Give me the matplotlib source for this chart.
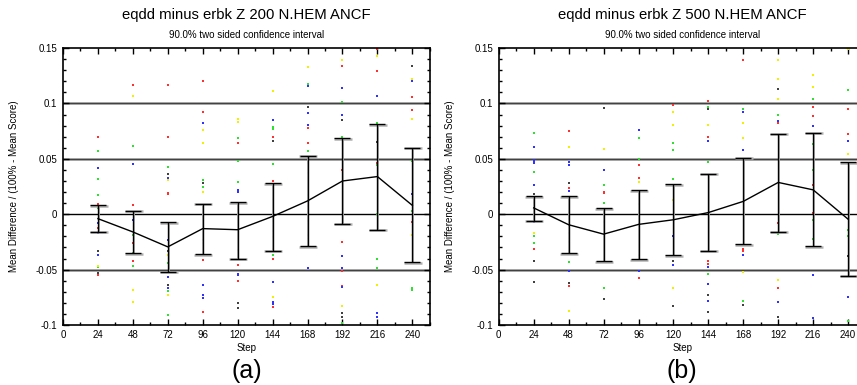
import numpy as np
import matplotlib.pyplot as plt
from matplotlib.ticker import MultipleLocator

plt.rcParams['font.family'] = ['Liberation Sans', 'DejaVu Sans']

steps = [24, 48, 72, 96, 120, 144, 168, 192, 216, 240]

# panel (a): Z 200
mean_a = [-0.004, -0.016, -0.0295, -0.013, -0.014, -0.002, 0.012, 0.030, 0.034, 0.008]
upper_a = [0.008, 0.003, -0.007, 0.0095, 0.011, 0.028, 0.053, 0.0686, 0.0814, 0.060]
lower_a = [-0.016, -0.035, -0.052, -0.036, -0.040, -0.033, -0.029, -0.0085, -0.014, -0.0435]

# panel (b): Z 500
mean_b = [0.0057, -0.0095, -0.018, -0.0092, -0.005, 0.0015, 0.0116, 0.0287, 0.022, -0.0045]
upper_b = [0.0164, 0.016, 0.0054, 0.0219, 0.0272, 0.0365, 0.0512, 0.0728, 0.0737, 0.047]
lower_b = [-0.0057, -0.035, -0.0426, -0.0408, -0.037, -0.033, -0.027, -0.0158, -0.029, -0.0557]

# individual scores per step, by colour
dots_a = {
    24: {'r': [0.070, 0.0095, -0.012, -0.055], 'g': [0.057, 0.032, 0.017, 0.006, -0.048],
         'b': [0.042, -0.008, -0.017, -0.037], 'y': [-0.047], 'k': [-0.033, -0.053]},
    48: {'r': [0.117, 0.062, 0.008, -0.026, -0.042], 'y': [0.107, -0.068, -0.079],
         'g': [0.062, -0.019, -0.035, -0.047], 'b': [0.045, -0.005]},
    72: {'r': [0.117, 0.070, 0.019, 0.018], 'g': [0.043, -0.044, -0.069, -0.091],
         'k': [0.036, -0.033, -0.064], 'b': [0.033, -0.023, -0.057, -0.067], 'y': [0.031, -0.037, -0.073]},
    96: {'r': [0.120, 0.092, -0.041, -0.088], 'b': [0.082, -0.064, -0.073, -0.076],
         'y': [0.076, 0.064, 0.020], 'g': [0.031, 0.025, 0.001, -0.026], 'k': [0.028, -0.023]},
    120: {'y': [0.086, 0.083], 'g': [0.069, 0.048, 0.029, -0.001], 'r': [0.064, 0.004, -0.032, -0.046, -0.060],
          'b': [0.022, 0.020, -0.054, -0.055], 'k': [-0.080, -0.085]},
    144: {'y': [0.111, -0.021, -0.075], 'b': [0.085, -0.006, -0.015, -0.061, -0.079, -0.081],
          'g': [0.079, 0.077, 0.045, 0.014, -0.037], 'r': [0.070, 0.030, -0.031, -0.040, -0.084], 'k': [0.066]},
    168: {'y': [0.133, 0.037], 'g': [0.118, 0.057, 0.017, -0.019], 'b': [0.116, 0.091, 0.081, 0.046, -0.049],
          'k': [0.097], 'r': [0.078, 0.064, 0.007, -0.006]},
    192: {'y': [0.139, -0.083], 'r': [0.134, 0.040, -0.025, -0.051, -0.065], 'b': [0.114, 0.090, -0.0375, -0.049, -0.066],
          'g': [0.101, 0.070, -0.098], 'k': [0.085, -0.089, -0.093]},
    216: {'r': [0.149, 0.129, 0.046], 'y': [0.143, -0.064], 'b': [0.107, -0.089, -0.093],
          'g': [0.082, 0.044, 0.0, -0.040, -0.049], 'k': [0.065]},
    240: {'k': [0.134], 'y': [0.122, 0.086, -0.019], 'b': [0.120, 0.018], 'r': [0.106, 0.094, -0.007],
          'g': [0.048, 0.003, -0.067, -0.068]},
}

dots_b = {
    24: {'g': [0.073, 0.038, -0.020, -0.026], 'b': [0.061, 0.049, 0.048, 0.046, 0.026, -0.0074],
         'k': [0.018, -0.042, -0.061], 'r': [0.015, -0.031], 'y': [0.010, -0.017]},
    48: {'r': [0.075, 0.024, -0.065], 'y': [0.061, -0.087], 'b': [0.047, 0.044, 0.021, -0.017, -0.051],
         'k': [0.028, -0.062], 'g': [0.002, -0.025, -0.043]},
    72: {'k': [0.096, -0.077], 'y': [0.059], 'b': [0.040, -0.007], 'g': [0.026, 0.010, -0.020, -0.040, -0.067],
         'r': [0.020, 0.019]},
    96: {'b': [0.076, -0.037, -0.051], 'g': [0.069, 0.050], 'r': [0.044, 0.033, 0.009, -0.058], 'y': [0.029]},
    120: {'r': [0.099], 'y': [0.092, 0.081, 0.013, -0.067], 'g': [0.064, 0.058, 0.032],
          'b': [-0.020, -0.046], 'k': [-0.042, -0.083]},
    144: {'r': [0.102, 0.070, -0.042, -0.045], 'g': [0.097, 0.047, -0.054], 'k': [0.095, -0.073, -0.088],
          'y': [0.081], 'b': [0.066, -0.048, -0.063, -0.078]},
    168: {'r': [0.139, -0.031, -0.033], 'g': [0.095, -0.078], 'b': [0.092, 0.058, -0.037],
          'y': [0.082, 0.069, -0.052], 'k': [-0.082]},
    192: {'y': [0.139, 0.122, 0.104, -0.059], 'k': [0.113, -0.093], 'g': [0.090, -0.018], 'b': [0.084, -0.079],
          'r': [0.082, -0.008, -0.067]},
    216: {'y': [0.126, 0.115], 'g': [0.104, 0.063, 0.040, -0.005, -0.022], 'r': [0.097, 0.089, 0.026, 0.001],
          'b': [0.080, -0.055, -0.094]},
    240: {'y': [0.149, 0.054], 'g': [0.112, -0.014, -0.020, -0.096], 'r': [0.095, 0.072], 'b': [0.066, -0.075],
          'k': [-0.038]},
}

dot_colors = {'r': '#ff3030', 'g': '#30e030', 'b': '#3030ff', 'y': '#f0f000', 'k': '#404040'}

titles = ['eqdd minus erbk Z 200 N.HEM ANCF', 'eqdd minus erbk Z 500 N.HEM ANCF']
letters = ['(a)', '(b)']

fig = plt.figure(figsize=(8.57, 3.85), dpi=100)
axes = [fig.add_axes([0.0735, 0.156, 0.428, 0.719]),
        fig.add_axes([0.582, 0.156, 0.428, 0.719])]

panels = [(dots_a, mean_a, upper_a, lower_a), (dots_b, mean_b, upper_b, lower_b)]

for ax, (dots, mean, upper, lower), title, letter in zip(axes, panels, titles, letters):
    for y in [0.1, 0.05, -0.05]:
        ax.axhline(y, color='#9a9a9a', lw=2.0, zorder=1)
        ax.axhline(y, color='#404040', lw=0.7, zorder=1)
    ax.axhline(0, color='black', lw=1.0, zorder=1)

    for s in steps:
        for c, vals in dots[s].items():
            ax.plot([s] * len(vals), vals, 's', ms=1.5, mew=0, color=dot_colors[c], zorder=2)

    mean = np.array(mean)
    yerr = [mean - np.array(lower), np.array(upper) - mean]
    ax.errorbar(np.array(steps) + 0.5, mean - 0.0005, yerr=yerr, fmt='none', ecolor='#b0b0b0',
                elinewidth=1.4, capsize=6.5, capthick=1.8, zorder=3)
    ax.errorbar(steps, mean, yerr=yerr, fmt='none', ecolor='black',
                elinewidth=1.0, capsize=6, capthick=1.0, zorder=4)
    ax.plot(steps, mean, color='black', lw=1.0, zorder=5)

    ax.set_xlim(0, 252)
    ax.set_ylim(-0.1, 0.15)
    ax.xaxis.set_major_locator(MultipleLocator(24))
    ax.xaxis.set_minor_locator(MultipleLocator(12))
    ax.yaxis.set_minor_locator(MultipleLocator(0.01))
    ax.set_yticks([-0.1, -0.05, 0, 0.05, 0.1, 0.15])
    ax.set_yticklabels(['-0.1', '-0.05', '0', '0.05', '0.1', '0.15'])
    ax.tick_params(which='both', direction='in', top=True, right=True, labelsize=7, width=1)
    ax.tick_params(which='major', length=4, pad=4)
    ax.tick_params(which='minor', length=2)
    for sp in ax.spines.values():
        sp.set_linewidth(1.2)

    ax.set_xlabel('Step', fontsize=7, labelpad=2)
    ax.set_ylabel('Mean Difference / (100% - Mean Score)', fontsize=7, labelpad=12)
    ax.text(0.5, 1.12, title, transform=ax.transAxes, ha='center', va='center', fontsize=10.7)
    ax.text(0.5, 1.047, '90.0% two sided confidence interval', transform=ax.transAxes,
            ha='center', va='center', fontsize=7)
    ax.text(0.5, -0.165, letter, transform=ax.transAxes, ha='center', va='center', fontsize=18)

fig.savefig('out.png', dpi=100)
